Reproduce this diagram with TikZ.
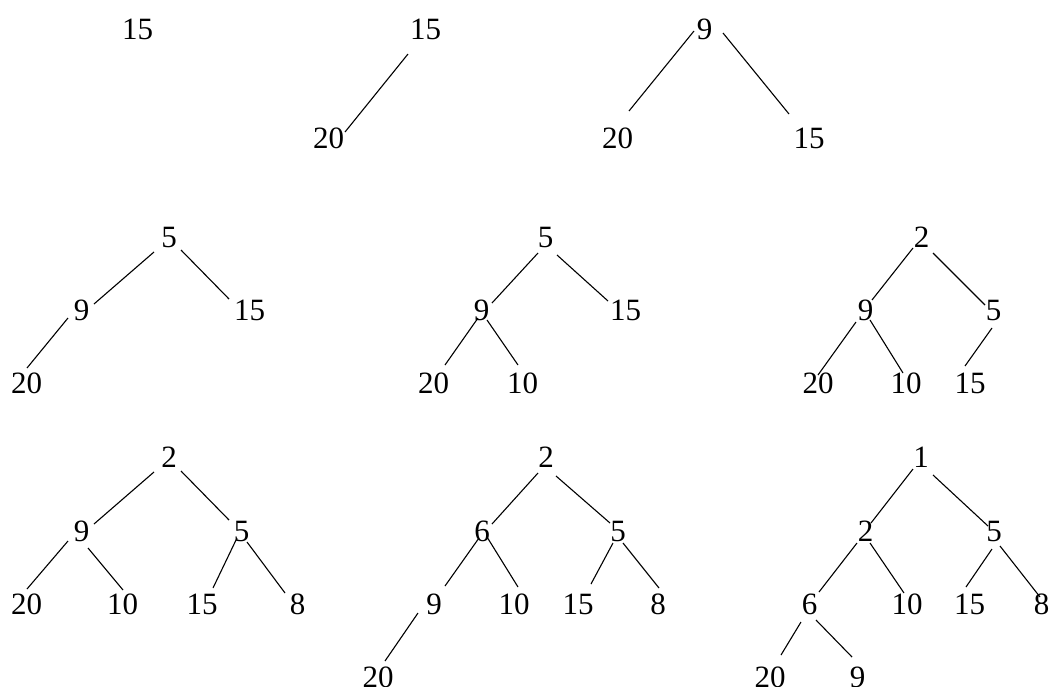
\documentclass[tikz,border=0pt]{standalone}
\usepackage{fontspec}
\setmainfont{Liberation Serif}
\usetikzlibrary{calc}
\newcommand\lnk[6]{\draw[link] ($(#1.base)+(#2,#3)$) -- ($(#4.base)+(#5,#6)$);}
\begin{document}
\begin{tikzpicture}[x=1pt,y=-1pt,
  num/.style={anchor=base,inner sep=0pt,font=\fontsize{31}{36}\selectfont},
  link/.style={line width=1.1pt}]
\useasboundingbox (0,0) rectangle (1050,686);
% tree 1
\node[num] (a1) at (137.5,39) {15};
% tree 2
\node[num] (b1) at (425.5,39) {15};
\node[num] (b2) at (328.5,148) {20};
\lnk{b1}{-17.5}{15}{b2}{16.5}{-16}
% tree 3
\node[num] (c1) at (704.5,39) {9};
\node[num] (c2) at (617.5,148) {20};
\node[num] (c3) at (809,148) {15};
\lnk{c1}{-10.5}{-8}{c2}{11.5}{-37}
\lnk{c1}{18.5}{-6}{c3}{-20}{-34}
% tree 4
\node[num] (d1) at (169,247) {5};
\node[num] (d2) at (81.5,320) {9};
\node[num] (d3) at (249.5,320) {15};
\node[num] (d4) at (26.5,393) {20};
\lnk{d1}{-15}{5}{d2}{12.5}{-16}
\lnk{d1}{12}{3}{d3}{-20.5}{-21}
\lnk{d2}{-13.5}{-2}{d4}{0.5}{-25}
% tree 5
\node[num] (e1) at (545.5,247) {5};
\node[num] (e2) at (481.5,320) {9};
\node[num] (e3) at (625.5,320) {15};
\node[num] (e4) at (433.5,393) {20};
\node[num] (e5) at (522.5,393) {10};
\lnk{e1}{-7.5}{6}{e2}{10.5}{-17}
\lnk{e1}{11.5}{8}{e3}{-17.5}{-19}
\lnk{e2}{-3.5}{-2}{e4}{11.5}{-28}
\lnk{e2}{5.5}{0}{e5}{-4.5}{-28}
% tree 6
\node[num] (f1) at (921.5,247) {2};
\node[num] (f2) at (865.5,320) {9};
\node[num] (f3) at (993.5,320) {5};
\node[num] (f4) at (818,393) {20};
\node[num] (f5) at (906,393) {10};
\node[num] (f6) at (970,393) {15};
\lnk{f1}{-8.5}{1}{f2}{6.5}{-20}
\lnk{f1}{11.5}{6}{f3}{-8.5}{-15}
\lnk{f2}{-9.5}{2}{f4}{0}{-18}
\lnk{f2}{4.5}{0}{f5}{-3}{-20}
\lnk{f3}{-1.5}{8}{f6}{-5}{-27}
% tree 7
\node[num] (g1) at (169,467) {2};
\node[num] (g2) at (81.5,541) {9};
\node[num] (g3) at (241.5,541) {5};
\node[num] (g4) at (26.5,614) {20};
\node[num] (g5) at (122.5,614) {10};
\node[num] (g6) at (202,614) {15};
\node[num] (g7) at (297.5,614) {8};
\lnk{g1}{-15}{5}{g2}{12.5}{-17}
\lnk{g1}{12}{4}{g3}{-12.5}{-21}
\lnk{g2}{-13.5}{0}{g4}{0.5}{-25}
\lnk{g2}{6.5}{7}{g5}{0.5}{-24}
\lnk{g3}{-4.5}{-3}{g6}{11}{-26}
\lnk{g3}{5.5}{1}{g7}{-12.5}{-21}
% tree 8
\node[num] (h1) at (546,467) {2};
\node[num] (h2) at (482,541) {6};
\node[num] (h3) at (618,541) {5};
\node[num] (h4) at (434,614) {9};
\node[num] (h5) at (514,614) {10};
\node[num] (h6) at (578,614) {15};
\node[num] (h7) at (658,614) {8};
\node[num] (h8) at (378,687) {20};
\lnk{h1}{-8}{6}{h2}{10}{-17}
\lnk{h1}{10}{9}{h3}{-8}{-18}
\lnk{h2}{-3}{-3}{h4}{11}{-28}
\lnk{h2}{5}{-4}{h5}{4}{-27}
\lnk{h3}{-5}{2}{h6}{13}{-30}
\lnk{h3}{5}{2}{h7}{1}{-26}
\lnk{h4}{-16}{-1}{h8}{7}{-26}
% tree 9
\node[num] (i1) at (921,467) {1};
\node[num] (i2) at (865.5,541) {2};
\node[num] (i3) at (994,541) {5};
\node[num] (i4) at (809.5,614) {6};
\node[num] (i5) at (907,614) {10};
\node[num] (i6) at (969.5,614) {15};
\node[num] (i7) at (1041.5,614) {8};
\node[num] (i8) at (770,687) {20};
\node[num] (i9) at (857.5,687) {9};
\lnk{i1}{-8}{2}{i2}{5.5}{-18}
\lnk{i1}{12}{8}{i3}{-6}{-15}
\lnk{i2}{-8.5}{2}{i4}{9.5}{-22}
\lnk{i2}{4.5}{2}{i5}{-3}{-21}
\lnk{i3}{-2}{8}{i6}{-3.5}{-27}
\lnk{i3}{6}{5}{i7}{-1.5}{-17}
\lnk{i4}{-8.5}{8}{i8}{11}{-32}
\lnk{i4}{6.5}{6}{i9}{-5.5}{-30}
\end{tikzpicture}
\end{document}
